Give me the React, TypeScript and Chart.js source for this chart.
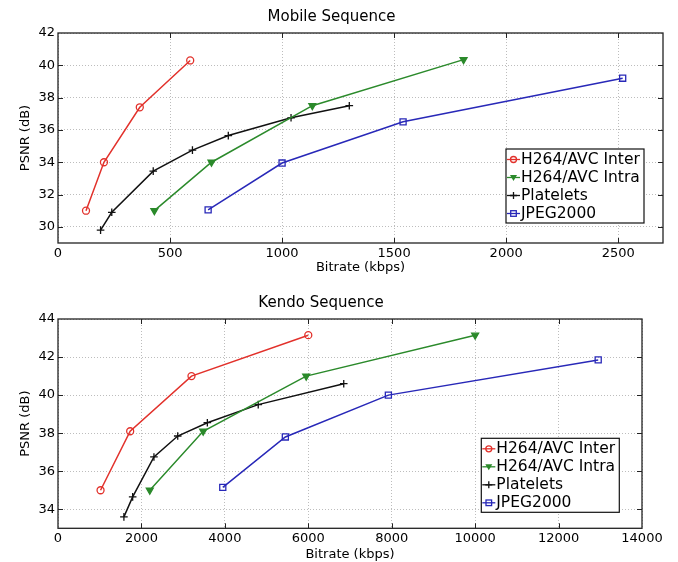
import React, { useEffect, useRef } from 'react';
import { Chart, registerables } from 'chart.js';

Chart.register(...registerables);

const FONT = 'DejaVu Sans';

const seriesLabels = ['H264/AVC Inter', 'H264/AVC Intra', 'Platelets', 'JPEG2000'];
const seriesColors = ['#e2312b', '#2b8a2b', '#111111', '#2828b8'];
const seriesMarkers = ['circle', 'triangle', 'cross', 'rect'];

// Mobile sequence
const mobileInterRate = [125, 205, 365, 590];
const mobileInterPsnr = [31.0, 34.0, 37.4, 40.3];
const mobileIntraRate = [430, 685, 1135, 1810];
const mobileIntraPsnr = [31.0, 34.0, 37.5, 40.35];
const mobilePlateletsRate = [190, 240, 425, 600, 760, 1040, 1300];
const mobilePlateletsPsnr = [29.8, 30.9, 33.45, 34.75, 35.65, 36.75, 37.5];
const mobileJpegRate = [670, 1000, 1540, 2520];
const mobileJpegPsnr = [31.05, 33.95, 36.5, 39.2];

// Kendo sequence
const kendoInterRate = [1020, 1730, 3200, 6000];
const kendoInterPsnr = [35.0, 38.1, 41.0, 43.15];
const kendoIntraRate = [2200, 3480, 5950, 10000];
const kendoIntraPsnr = [35.0, 38.1, 41.0, 43.15];
const kendoPlateletsRate = [1580, 1790, 2300, 2870, 3580, 4800, 6850];
const kendoPlateletsPsnr = [33.6, 34.65, 36.75, 37.85, 38.55, 39.5, 40.6];
const kendoJpegRate = [3950, 5450, 7920, 12950];
const kendoJpegPsnr = [35.15, 37.8, 40.0, 41.85];

const mobileTitle = 'Mobile Sequence';
const kendoTitle = 'Kendo Sequence';
const xTitle = 'Bitrate (kbps)';
const yTitle = 'PSNR (dB)';

// Axis ranges and tick values
const mobileXRange = [0, 2700];
const mobileXTicks = [0, 500, 1000, 1500, 2000, 2500];
const mobileYRange = [29, 42];
const mobileYTicks = [30, 32, 34, 36, 38, 40, 42];
const kendoXRange = [0, 14000];
const kendoXTicks = [0, 2000, 4000, 6000, 8000, 10000, 12000, 14000];
const kendoYRange = [33, 44];
const kendoYTicks = [34, 36, 38, 40, 42, 44];

function zip(xs: number[], ys: number[]) {
  return xs.map((x, i) => ({ x, y: ys[i] }));
}

function makeDatasets(rates: number[][], psnrs: number[][]) {
  return rates.map((r, i) => {
    const style = seriesMarkers[i];
    const color = seriesColors[i];
    return {
      label: seriesLabels[i],
      data: zip(r, psnrs[i]),
      borderColor: color,
      backgroundColor: color,
      borderWidth: 1.5,
      pointStyle: style,
      pointRotation: style === 'triangle' ? 180 : 0,
      pointRadius: style === 'rect' ? 4.3 : style === 'cross' ? 3.8 : style === 'triangle' ? 4 : 3.5,
      pointBorderWidth: 1.3,
      pointBorderColor: color,
      pointBackgroundColor: style === 'triangle' ? color : 'rgba(255,255,255,0)',
      tension: 0,
      fill: false,
    };
  });
}

const framePlugin = {
  id: 'matFrame',
  afterDatasetsDraw(chart: any) {
    const { ctx, chartArea: a, scales } = chart;
    ctx.save();
    ctx.strokeStyle = '#222';
    ctx.lineWidth = 1.3;
    ctx.strokeRect(a.left, a.top, a.right - a.left, a.bottom - a.top);
    const tl = 5;
    ctx.lineWidth = 1;
    ctx.beginPath();
    scales.x.ticks.forEach((t: any) => {
      const px = Math.round(scales.x.getPixelForValue(t.value)) + 0.5;
      if (px <= a.left + 2 || px >= a.right - 2) return;
      ctx.moveTo(px, a.bottom);
      ctx.lineTo(px, a.bottom - tl);
      ctx.moveTo(px, a.top);
      ctx.lineTo(px, a.top + tl);
    });
    scales.y.ticks.forEach((t: any) => {
      const py = Math.round(scales.y.getPixelForValue(t.value)) + 0.5;
      if (py <= a.top + 2 || py >= a.bottom - 2) return;
      ctx.moveTo(a.left, py);
      ctx.lineTo(a.left + tl, py);
      ctx.moveTo(a.right, py);
      ctx.lineTo(a.right - tl, py);
    });
    ctx.stroke();
    ctx.restore();
  },
};

function drawMarker(ctx: CanvasRenderingContext2D, style: string, x: number, y: number, color: string) {
  ctx.strokeStyle = color;
  ctx.fillStyle = color;
  ctx.lineWidth = 1.3;
  ctx.beginPath();
  if (style === 'circle') {
    ctx.arc(x, y, 3, 0, Math.PI * 2);
    ctx.stroke();
  } else if (style === 'triangle') {
    ctx.moveTo(x - 3.5, y - 2.5);
    ctx.lineTo(x + 3.5, y - 2.5);
    ctx.lineTo(x, y + 3.5);
    ctx.closePath();
    ctx.fill();
  } else if (style === 'cross') {
    ctx.moveTo(x - 3.5, y);
    ctx.lineTo(x + 3.5, y);
    ctx.moveTo(x, y - 3.5);
    ctx.lineTo(x, y + 3.5);
    ctx.stroke();
  } else {
    ctx.strokeRect(x - 2.8, y - 2.8, 5.6, 5.6);
  }
}

const boxLegendPlugin = {
  id: 'boxLegend',
  afterDraw(chart: any, _args: any, opts: any) {
    const { ctx, chartArea: a } = chart;
    const w = opts.width;
    const h = opts.height;
    const x0 = a.right - opts.right - w;
    const y0 = a.bottom - opts.bottom - h;
    ctx.save();
    ctx.fillStyle = '#fff';
    ctx.fillRect(x0, y0, w, h);
    ctx.strokeStyle = '#111';
    ctx.lineWidth = 1.2;
    ctx.strokeRect(x0, y0, w, h);
    const rowH = 18;
    chart.data.datasets.forEach((ds: any, i: number) => {
      const cy = y0 + 10.5 + i * rowH;
      ctx.strokeStyle = ds.borderColor;
      ctx.lineWidth = 1.3;
      ctx.beginPath();
      ctx.moveTo(x0 + 1, cy);
      ctx.lineTo(x0 + 14, cy);
      ctx.stroke();
      drawMarker(ctx, ds.pointStyle, x0 + 7.5, cy, ds.borderColor);
      ctx.fillStyle = '#000';
      ctx.font = `15.5px "${FONT}"`;
      ctx.textBaseline = 'middle';
      ctx.textAlign = 'left';
      ctx.fillText(ds.label, x0 + 15, cy + 0.5);
    });
    ctx.restore();
  },
};

function makeConfig(
  title: string,
  datasets: any[],
  xRange: number[],
  xTicks: number[],
  yRange: number[],
  yTicks: number[],
  geo: any
) {
  return {
    type: 'line',
    data: { datasets },
    plugins: [framePlugin, boxLegendPlugin],
    options: {
      animation: false,
      responsive: false,
      devicePixelRatio: 1,
      layout: { padding: { left: 0, right: geo.padRight, top: 0, bottom: 0 } },
      plugins: {
        legend: { display: false },
        tooltip: { enabled: false },
        title: {
          display: true,
          text: title,
          color: '#000',
          font: { family: FONT, size: 15, weight: 'normal' },
          padding: { top: geo.titleTop, bottom: geo.titleBottom },
        },
        boxLegend: geo.legend,
      },
      scales: {
        x: {
          type: 'linear',
          min: xRange[0],
          max: xRange[1],
          bounds: 'data',
          afterBuildTicks: (s: any) => {
            s.ticks = xTicks.map((v) => ({ value: v }));
          },
          afterFit: (s: any) => {
            s.height = geo.xHeight;
          },
          ticks: {
            padding: 3,
            maxRotation: 0,
            autoSkip: false,
            color: '#000',
            font: { family: FONT, size: 13 },
            callback: (v: any) => String(v),
          },
          grid: { color: '#bdbdbd', lineWidth: 1, drawTicks: false },
          border: { display: false, dash: [1, 2] },
          title: {
            display: true,
            text: xTitle,
            color: '#000',
            font: { family: FONT, size: 13 },
            padding: { top: 0, bottom: geo.xTitleBottom },
          },
        },
        y: {
          type: 'linear',
          min: yRange[0],
          max: yRange[1],
          bounds: 'data',
          afterBuildTicks: (s: any) => {
            s.ticks = yTicks.map((v) => ({ value: v }));
          },
          afterFit: (s: any) => {
            s.width = 58;
          },
          ticks: {
            padding: 3,
            autoSkip: false,
            color: '#000',
            font: { family: FONT, size: 13 },
            callback: (v: any) => String(v),
          },
          grid: { color: '#bdbdbd', lineWidth: 1, drawTicks: false },
          border: { display: false, dash: [1, 2] },
          title: {
            display: true,
            text: yTitle,
            color: '#000',
            font: { family: FONT, size: 13 },
            padding: { top: 17.7, bottom: 0 },
          },
        },
      },
    },
  };
}

function ChartCanvas({ config }: { config: any }) {
  const ref = useRef<HTMLCanvasElement | null>(null);
  useEffect(() => {
    if (!ref.current) return;
    const chart = new Chart(ref.current, config);
    return () => chart.destroy();
  }, [config]);
  return <canvas ref={ref} width={678} height={281} style={{ display: 'block', width: 678, height: 281 }} />;
}

const mobileConfig = makeConfig(
  mobileTitle,
  makeDatasets(
    [mobileInterRate, mobileIntraRate, mobilePlateletsRate, mobileJpegRate],
    [mobileInterPsnr, mobileIntraPsnr, mobilePlateletsPsnr, mobileJpegPsnr]
  ),
  mobileXRange,
  mobileXTicks,
  mobileYRange,
  mobileYTicks,
  {
    padRight: 15,
    titleTop: 8,
    titleBottom: 7,
    xHeight: 38,
    xTitleBottom: 5.5,
    legend: { right: 19, bottom: 20, width: 138, height: 74 },
  }
);

const kendoConfig = makeConfig(
  kendoTitle,
  makeDatasets(
    [kendoInterRate, kendoIntraRate, kendoPlateletsRate, kendoJpegRate],
    [kendoInterPsnr, kendoIntraPsnr, kendoPlateletsPsnr, kendoJpegPsnr]
  ),
  kendoXRange,
  kendoXTicks,
  kendoYRange,
  kendoYTicks,
  {
    padRight: 36,
    titleTop: 13,
    titleBottom: 7,
    xHeight: 33.7,
    xTitleBottom: 0,
    legend: { right: 22.7, bottom: 16, width: 138, height: 74 },
  }
);

export default function App() {
  return (
    <div style={{ position: 'absolute', left: 0, top: 0, width: 678, height: 562, background: '#fff' }}>
      <ChartCanvas config={mobileConfig} />
      <ChartCanvas config={kendoConfig} />
    </div>
  );
}
